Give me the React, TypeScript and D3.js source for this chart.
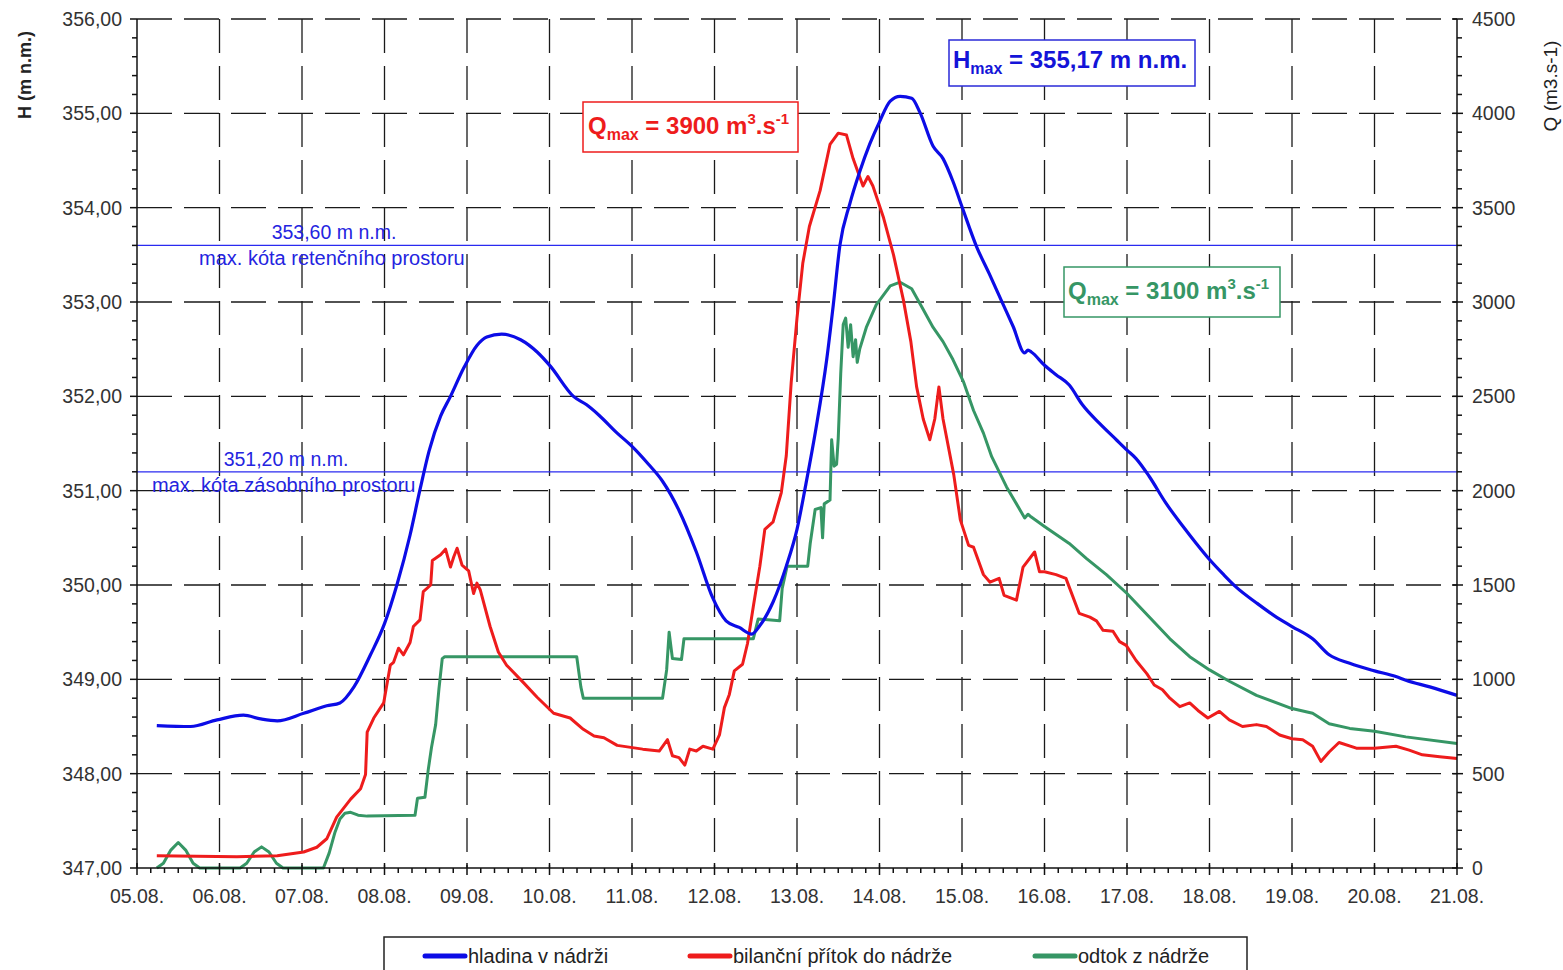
import React from "react";
import * as d3 from "d3";

const W = 1563;
const H = 970;
const M = { left: 137, right: 1457, top: 19, bottom: 868 };

const dayTicks = d3.range(5, 22);
const hTicks = d3.range(347, 357);
const qTicks = d3.range(0, 4501, 500);

// hladina v nádrži [day, H m n.m.]
const hladina: [number, number][] = [
  [5.24, 348.51], [5.65, 348.5], [5.97, 348.57], [6.29, 348.62], [6.5, 348.58], [6.7, 348.56],
  [7.02, 348.64], [7.3, 348.72], [7.46, 348.75], [7.63, 348.92], [7.83, 349.26], [8.0, 349.59],
  [8.15, 350.0], [8.31, 350.53], [8.43, 351.01], [8.54, 351.42], [8.68, 351.79], [8.8, 352.0],
  [8.96, 352.3], [9.12, 352.54], [9.24, 352.63], [9.42, 352.66], [9.65, 352.6], [9.85, 352.47],
  [10.01, 352.32], [10.29, 352.0], [10.45, 351.91], [10.6, 351.8], [10.82, 351.61], [11.0, 351.47],
  [11.2, 351.28], [11.37, 351.1], [11.57, 350.79], [11.78, 350.35], [11.98, 349.86], [12.14, 349.62],
  [12.3, 349.55], [12.45, 349.48], [12.55, 349.57], [12.71, 349.82], [12.87, 350.2], [13.0, 350.59],
  [13.11, 351.08], [13.23, 351.66], [13.36, 352.39], [13.44, 352.97], [13.52, 353.6], [13.64, 354.04],
  [13.76, 354.38], [13.88, 354.67], [14.0, 354.91], [14.13, 355.13], [14.25, 355.18], [14.39, 355.16],
  [14.49, 355.01], [14.65, 354.65], [14.77, 354.52], [14.89, 354.28], [15.0, 354.01], [15.18, 353.58],
  [15.33, 353.3], [15.49, 352.99], [15.62, 352.74], [15.76, 352.46], [15.8, 352.49], [15.84, 352.47],
  [16.0, 352.33], [16.14, 352.23], [16.3, 352.12], [16.46, 351.91], [16.67, 351.71], [16.87, 351.54],
  [17.0, 351.43], [17.11, 351.34], [17.27, 351.15], [17.47, 350.87], [17.68, 350.62], [17.84, 350.44],
  [18.0, 350.27], [18.16, 350.12], [18.32, 349.98], [18.57, 349.81], [18.81, 349.66], [19.0, 349.56],
  [19.25, 349.43], [19.45, 349.26], [19.7, 349.17], [20.0, 349.09], [20.26, 349.03], [20.38, 348.99],
  [20.67, 348.92], [21.0, 348.83],
];

// bilanční přítok do nádrže [day, Q m3/s]
const pritok: [number, number][] = [
  [5.24, 65], [6.21, 60], [6.7, 65], [7.02, 85], [7.18, 110], [7.3, 155], [7.42, 270], [7.59, 365],
  [7.71, 420], [7.77, 495], [7.79, 720], [7.87, 795], [7.99, 875], [8.07, 1075], [8.11, 1090],
  [8.17, 1165], [8.23, 1130], [8.31, 1195], [8.35, 1280], [8.43, 1315], [8.47, 1465], [8.56, 1500],
  [8.58, 1630], [8.68, 1660], [8.74, 1690], [8.8, 1595], [8.84, 1650], [8.88, 1695], [8.94, 1605],
  [9.02, 1575], [9.08, 1455], [9.12, 1510], [9.16, 1475], [9.28, 1280], [9.38, 1145], [9.48, 1075],
  [9.69, 980], [9.85, 905], [10.05, 820], [10.25, 795], [10.41, 735], [10.54, 700], [10.66, 690],
  [10.82, 650], [11.13, 630], [11.33, 620], [11.43, 680], [11.49, 595], [11.57, 585], [11.64, 545],
  [11.7, 630], [11.78, 620], [11.86, 645], [11.98, 630], [12.06, 705], [12.12, 850], [12.18, 920],
  [12.24, 1045], [12.34, 1080], [12.4, 1190], [12.47, 1385], [12.55, 1600], [12.61, 1795],
  [12.71, 1835], [12.81, 1990], [12.87, 2185], [12.93, 2575], [13.0, 2915], [13.07, 3205],
  [13.15, 3400], [13.28, 3590], [13.4, 3835], [13.5, 3895], [13.6, 3885], [13.68, 3760],
  [13.8, 3615], [13.86, 3665], [13.92, 3615], [14.05, 3445], [14.17, 3250], [14.29, 3010],
  [14.38, 2790], [14.45, 2550], [14.53, 2380], [14.61, 2270], [14.67, 2380], [14.72, 2550],
  [14.77, 2380], [14.9, 2085], [14.98, 1845], [15.08, 1710], [15.14, 1700], [15.26, 1555],
  [15.34, 1515], [15.45, 1535], [15.51, 1445], [15.66, 1420], [15.74, 1595], [15.88, 1675],
  [15.94, 1570], [16.0, 1570], [16.14, 1555], [16.26, 1535], [16.42, 1350], [16.55, 1330],
  [16.63, 1310], [16.71, 1260], [16.83, 1255], [16.91, 1200], [16.99, 1180], [17.11, 1100],
  [17.24, 1030], [17.33, 970], [17.43, 945], [17.52, 900], [17.64, 855], [17.76, 875], [17.86, 835],
  [17.98, 795], [18.12, 830], [18.24, 785], [18.4, 750], [18.57, 760], [18.69, 750], [18.85, 705],
  [19.0, 685], [19.13, 680], [19.25, 645], [19.35, 565], [19.45, 615], [19.57, 665], [19.78, 635],
  [20.0, 635], [20.26, 645], [20.42, 625], [20.58, 600], [20.79, 590], [21.0, 580],
];

// odtok z nádrže [day, Q m3/s]
const odtok: [number, number][] = [
  [5.24, 0], [5.32, 25], [5.41, 95], [5.5, 135], [5.59, 95], [5.68, 25], [5.76, 0],
  [6.25, 0], [6.33, 25], [6.42, 85], [6.51, 112], [6.6, 85], [6.69, 25], [6.77, 0],
  [7.26, 0], [7.33, 80], [7.4, 190], [7.46, 260], [7.52, 290], [7.59, 295], [7.68, 280],
  [7.79, 275], [8.37, 280], [8.4, 370], [8.49, 375], [8.53, 520], [8.57, 640], [8.62, 760],
  [8.66, 950], [8.7, 1110], [8.73, 1120], [10.33, 1120], [10.38, 960], [10.41, 900], [11.37, 900],
  [11.42, 1050], [11.45, 1250], [11.49, 1110], [11.6, 1105], [11.63, 1215], [12.47, 1215],
  [12.53, 1320], [12.79, 1310], [12.82, 1480], [12.88, 1600], [13.13, 1600], [13.16, 1720],
  [13.22, 1900], [13.29, 1910], [13.31, 1750], [13.33, 1930], [13.4, 1950], [13.42, 2270],
  [13.45, 2130], [13.48, 2140], [13.5, 2280], [13.53, 2620], [13.56, 2880], [13.59, 2915],
  [13.62, 2760], [13.65, 2880], [13.68, 2710], [13.71, 2800], [13.73, 2680], [13.76, 2750],
  [13.84, 2865], [13.96, 2985], [14.13, 3085], [14.25, 3105], [14.39, 3070], [14.53, 2960],
  [14.65, 2865], [14.77, 2790], [14.89, 2695], [15.02, 2575], [15.14, 2425], [15.26, 2305],
  [15.36, 2180], [15.54, 2020], [15.76, 1855], [15.8, 1875], [15.84, 1860], [16.0, 1810],
  [16.3, 1720], [16.51, 1640], [16.75, 1555], [17.0, 1455], [17.27, 1330], [17.52, 1215],
  [17.76, 1120], [18.0, 1050], [18.24, 990], [18.57, 915], [19.0, 845], [19.25, 820],
  [19.45, 765], [19.7, 740], [20.0, 725], [20.38, 695], [21.0, 660],
];

const refLevels = [
  { h: 353.6, top: "353,60 m n.m.", topX: 334, bottom: "max. kóta retenčního prostoru", bottomX: 199 },
  { h: 351.2, top: "351,20 m n.m.", topX: 286, bottom: "max. kóta zásobního prostoru", bottomX: 152 },
];

const legendItems = [
  { label: "hladina v nádrži", color: "#0c0ce6", x: 425 },
  { label: "bilanční přítok do nádrže", color: "#ee1c1c", x: 690 },
  { label: "odtok z nádrže", color: "#369665", x: 1035 },
];

const BLUE = "#0c0ce6";
const RED = "#ee1c1c";
const GREEN = "#369665";
const FONT = "'Liberation Sans', Arial, sans-serif";

export default function App() {
  const x = d3.scaleLinear().domain([5, 21]).range([M.left, M.right]);
  const yH = d3.scaleLinear().domain([347, 356]).range([M.bottom, M.top]);
  const yQ = d3.scaleLinear().domain([0, 4500]).range([M.bottom, M.top]);

  const lineH = d3.line<[number, number]>().x((d) => x(d[0])).y((d) => yH(d[1])).curve(d3.curveMonotoneX);
  const lineQ = d3.line<[number, number]>().x((d) => x(d[0])).y((d) => yQ(d[1]));

  const minorX = d3.range(5, 21.0001, 1 / 6).filter((v) => Math.abs(v - Math.round(v)) > 1e-6);
  const minorH = d3.range(347, 356.0001, 0.2).filter((v) => Math.abs(v - Math.round(v)) > 1e-6);
  const minorQ = d3.range(0, 4501, 100).filter((v) => v % 500 !== 0);

  const hFmt = (v: number) => v.toFixed(2).replace(".", ",");
  const dFmt = (v: number) => `${String(v).padStart(2, "0")}.08.`;

  return (
    <div style={{ position: "absolute", left: 0, top: 0 }}>
      <svg width={W} height={H} style={{ display: "block", background: "#fff" }} fontFamily={FONT}>
        {/* grid */}
        <g stroke="#1a1a1a" strokeWidth={1.3} fill="none">
          {dayTicks.slice(1, -1).map((d) => (
            <line key={"gx" + d} x1={x(d)} x2={x(d)} y1={M.top} y2={M.bottom} strokeDasharray="34,13" />
          ))}
          {hTicks.slice(1).map((h) => (
            <line key={"gy" + h} x1={M.left} x2={M.right} y1={yH(h)} y2={yH(h)} strokeDasharray="35,12" />
          ))}
        </g>

        {/* reference levels */}
        {refLevels.map((r) => (
          <g key={r.h}>
            <line x1={M.left} x2={M.right} y1={yH(r.h)} y2={yH(r.h)} stroke="#2a2af0" strokeWidth={1.2} />
            <text x={r.topX} y={yH(r.h) - 6} fill="#2424e0" fontSize={19.5} textAnchor="middle">{r.top}</text>
            <text x={r.bottomX} y={yH(r.h) + 20} fill="#2424e0" fontSize={20}>{r.bottom}</text>
          </g>
        ))}

        {/* series */}
        <path d={lineQ(odtok) || ""} fill="none" stroke={GREEN} strokeWidth={3} strokeLinejoin="round" />
        <path d={lineQ(pritok) || ""} fill="none" stroke={RED} strokeWidth={3} strokeLinejoin="round" />
        <path d={lineH(hladina) || ""} fill="none" stroke={BLUE} strokeWidth={3.2} strokeLinejoin="round" />

        {/* axes */}
        <g stroke="#111" strokeWidth={1.5}>
          <line x1={M.left} x2={M.left} y1={M.top} y2={M.bottom} />
          <line x1={M.right} x2={M.right} y1={M.top} y2={M.bottom} />
          <line x1={M.left} x2={M.right} y1={M.bottom} y2={M.bottom} />
          {hTicks.map((h) => (
            <line key={"lt" + h} x1={M.left - 7} x2={M.left} y1={yH(h)} y2={yH(h)} />
          ))}
          {minorH.map((h) => (
            <line key={"lm" + h} x1={M.left - 5} x2={M.left} y1={yH(h)} y2={yH(h)} />
          ))}
          {qTicks.map((q) => (
            <line key={"rt" + q} x1={M.right - 5} x2={M.right + 6} y1={yQ(q)} y2={yQ(q)} />
          ))}
          {minorQ.map((q) => (
            <line key={"rm" + q} x1={M.right} x2={M.right + 5} y1={yQ(q)} y2={yQ(q)} />
          ))}
          {dayTicks.map((d) => (
            <line key={"bt" + d} x1={x(d)} x2={x(d)} y1={M.bottom - 5} y2={M.bottom + 7} />
          ))}
          {minorX.map((d, i) => (
            <line key={"bm" + i} x1={x(d)} x2={x(d)} y1={M.bottom} y2={M.bottom + 5} />
          ))}
        </g>

        {/* tick labels */}
        <g fill="#333" fontSize={19.5}>
          {hTicks.map((h) => (
            <text key={"hl" + h} x={M.left - 15} y={yH(h) + 7} textAnchor="end">{hFmt(h)}</text>
          ))}
          {qTicks.map((q) => (
            <text key={"ql" + q} x={M.right + 15} y={yQ(q) + 7}>{q}</text>
          ))}
          {dayTicks.map((d) => (
            <text key={"dl" + d} x={x(d)} y={903} textAnchor="middle">{dFmt(d)}</text>
          ))}
        </g>

        {/* axis titles */}
        <text transform="translate(31,75) rotate(-90)" textAnchor="middle" fontSize={18} fontWeight="bold" fill="#222">H (m n.m.)</text>
        <text transform="translate(1557,86) rotate(-90)" textAnchor="middle" fontSize={19} fill="#222">Q (m3.s-1)</text>

        {/* annotation boxes */}
        <rect x={583} y={102} width={215} height={50} fill="#fff" stroke={RED} strokeWidth={1.5} />
        <text x={588} y={134} fill={RED} fontSize={24} fontWeight="bold">
          Q<tspan fontSize={16} dy={6}>max</tspan>
          <tspan dy={-6}> = 3900 m</tspan>
          <tspan fontSize={15} dy={-10}>3</tspan>
          <tspan dy={10}>.s</tspan>
          <tspan fontSize={15} dy={-10}>-1</tspan>
        </text>

        <rect x={949} y={40} width={246} height={46} fill="#fff" stroke="#2a2ad8" strokeWidth={1.5} />
        <text x={953} y={68} fill="#1414d8" fontSize={24} fontWeight="bold">
          H<tspan fontSize={16} dy={6}>max</tspan>
          <tspan dy={-6}> = 355,17 m n.m.</tspan>
        </text>

        <rect x={1064} y={267} width={216} height={50} fill="#fff" stroke={GREEN} strokeWidth={1.5} />
        <text x={1068} y={299} fill={GREEN} fontSize={24} fontWeight="bold">
          Q<tspan fontSize={16} dy={6}>max</tspan>
          <tspan dy={-6}> = 3100 m</tspan>
          <tspan fontSize={15} dy={-10}>3</tspan>
          <tspan dy={10}>.s</tspan>
          <tspan fontSize={15} dy={-10}>-1</tspan>
        </text>

        {/* legend */}
        <rect x={384} y={937} width={863} height={60} fill="#fff" stroke="#222" strokeWidth={1.5} />
        {legendItems.map((it) => (
          <g key={it.label}>
            <line x1={it.x} x2={it.x + 40} y1={956} y2={956} stroke={it.color} strokeWidth={5} strokeLinecap="round" />
            <text x={it.x + 43} y={963} fontSize={20} fill="#222">{it.label}</text>
          </g>
        ))}
      </svg>
    </div>
  );
}
